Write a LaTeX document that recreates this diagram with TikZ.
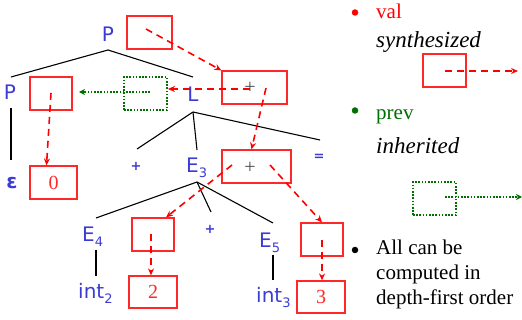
\documentclass[tikz,border=0pt]{standalone}
\usepackage{fontspec}
\setmainfont{Liberation Serif}
\newfontfamily\lblfont{DejaVu Sans}
\usetikzlibrary{arrows.meta}
\definecolor{lblue}{RGB}{60,60,210}
\definecolor{bred}{RGB}{255,40,40}
\definecolor{dgreen}{RGB}{0,110,0}
\newcommand{\sbs}[1]{\raisebox{-4.5pt}{\fontsize{13}{13}\selectfont #1}}
\tikzset{
  lbl/.style={font=\lblfont\fontsize{20}{22}\selectfont, text=lblue, inner sep=0pt},
  sml/.style={font=\lblfont\bfseries\fontsize{13}{14}\selectfont, text=lblue, inner sep=0pt},
  tree/.style={line width=1.1pt, black},
  vbox/.style={draw=bred, line width=1.2pt, minimum width=#1, minimum height=33pt, inner sep=0pt, font=\fontsize{20}{22}\selectfont, text=bred},
  vbox/.default=43pt,
  gbox/.style={draw=dgreen, line width=1.8pt, dash pattern=on 1.6pt off 1.6pt, minimum width=43pt, minimum height=33pt, inner sep=0pt},
  syn/.style={red, line width=1.6pt, dash pattern=on 7pt off 5pt, -{Stealth[length=7pt,width=6pt]}},
  inh/.style={dgreen, line width=1.8pt, dash pattern=on 1.6pt off 1.6pt, -{Stealth[length=6pt,width=6pt]}},
  plus/.style={font=\fontsize{20}{22}\selectfont, text=black!70, inner sep=0pt},
  leg/.style={font=\fontsize{21}{25}\selectfont, anchor=base west, inner sep=0pt},
  legi/.style={font=\fontsize{23}{25}\selectfont\itshape, anchor=base west, inner sep=0pt},
  bul/.style={circle, fill=#1, minimum size=6.5pt, inner sep=0pt}
}
\begin{document}
\begin{tikzpicture}[x=1pt,y=-1pt]
\useasboundingbox (0,0) rectangle (522,320);
% labels
\node[lbl] (P) at (108,34) {P};
\node[lbl] (Pl) at (10,92.5) {P};
\node[lbl] (L) at (193,94) {L};
\node[lbl, font=\lblfont\bfseries\fontsize{20}{22}\selectfont] (eps) at (12,183) {ε};
\node[sml] (pl1) at (136,166) {+};
\node[lbl, anchor=base west] (E3) at (186,173) {E\sbs{3}};
\node[sml] (eq) at (319,157) {=};
\node[sml] (pl2) at (210,229) {+};
\node[lbl, anchor=base west] (E4) at (82,242) {E\sbs{4}};
\node[lbl, anchor=base west] (int2) at (78,299) {int\sbs{2}};
\node[lbl, anchor=base west] (E5) at (259,248) {E\sbs{5}};
\node[lbl, anchor=base west] (int3) at (256,303) {int\sbs{3}};
% tree junctions
\coordinate (Pj) at (108,50);
\coordinate (Plt) at (11,77);
\coordinate (Lt) at (193,77);
\coordinate (Plb) at (11,108);
\coordinate (epst) at (11,160);
\coordinate (Lj) at (193,112);
\coordinate (pl1t) at (137,149);
\coordinate (E3t) at (197,150);
\coordinate (eqt) at (320,140);
\coordinate (E3j) at (197,182);
\coordinate (E4t) at (96,218);
\coordinate (pl2t) at (211,212);
\coordinate (E5t) at (273,223);
\coordinate (E4b) at (96,250);
\coordinate (int2t) at (96,276);
\coordinate (E5b) at (273,255);
\coordinate (int3t) at (273,280);
\draw[tree] (Pj) -- (Plt);
\draw[tree] (Pj) -- (Lt);
\draw[tree] (Plb) -- (epst);
\draw[tree] (Lj) -- (pl1t);
\draw[tree] (Lj) -- (E3t);
\draw[tree] (Lj) -- (eqt);
\draw[tree] (E3j) -- (E4t);
\draw[tree] (E3j) -- (pl2t);
\draw[tree] (E3j) -- (E5t);
\draw[tree] (E4b) -- (int2t);
\draw[tree, line width=1.8pt] (E5b) -- (int3t);
% boxes
\node[vbox=45pt] (pbox) at (149.5,32.5) {};
\node[vbox=42pt] (plbox) at (51,93.5) {};
\node[gbox] (gb) at (145.5,93.5) {};
\node[vbox=65pt] (lbox) at (254.5,87.5) {};
\node[plus] (lplus) at (250,88) {+};
\node[vbox=47pt] (zbox) at (53.5,182.5) {0};
\node[vbox=69pt] (e3box) at (256.5,166.5) {};
\node[plus] (e3plus) at (250,168) {+};
\node[vbox=42pt] (e4box) at (153,234.5) {};
\node[vbox=48pt, minimum height=32pt] (twobox) at (153,292) {2};
\node[vbox=42pt] (e5box) at (322,239.5) {};
\node[vbox=48pt, minimum height=32pt] (threebox) at (321,297) {3};
% dependency arrows
\coordinate (s1) at (146,29);
\coordinate (s2) at (250,89);
\coordinate (s3) at (266,88);
\coordinate (s4) at (51,93);
\coordinate (s5) at (232,165);
\coordinate (s6) at (270,165);
\coordinate (s7) at (151,234);
\coordinate (s8) at (322,240);
\coordinate (g1) at (150,92);
\coordinate (g2) at (79,92);
\draw[syn] (s1) -- (lbox.north west);
\draw[syn] (s2) -- ([yshift=4.5pt]gb.east);
\draw[syn] (s3) -- ([xshift=-5pt]e3box.north);
\draw[syn] (s4) -- ([xshift=-7pt]zbox.north);
\draw[syn] (s5) -- ([xshift=13pt]e4box.north);
\draw[syn] (s6) -- (e5box.north);
\draw[syn] (s7) -- ([xshift=-2pt]twobox.north);
\draw[syn] (s8) -- ([xshift=1pt]threebox.north);
\draw[inh] (g1) -- (g2);
% legend
\node[bul=red] (b1) at (355,12.5) {};
\node[leg, text=red] (val) at (376,19) {val};
\node[legi] (synth) at (376,48) {synthesized};
\node[vbox=43pt] (lrb) at (444.5,70.5) {};
\coordinate (lr1) at (445,71);
\coordinate (lr2) at (518,71);
\draw[syn] (lr1) -- (lr2);
\node[bul=dgreen] (b2) at (355,110.5) {};
\node[leg, text=dgreen] (prev) at (376,120) {prev};
\node[legi] (inh) at (376,154) {inherited};
\node[gbox] (lgb) at (434.5,198.5) {};
\coordinate (lg1) at (445,197);
\coordinate (lg2) at (522,197);
\draw[inh] (lg1) -- (lg2);
\node[bul=black] (b3) at (355,250) {};
\node[leg, align=left, anchor=north west] (all) at (376,240) {All can be\\computed in\\depth-first order};
\end{tikzpicture}
\end{document}
